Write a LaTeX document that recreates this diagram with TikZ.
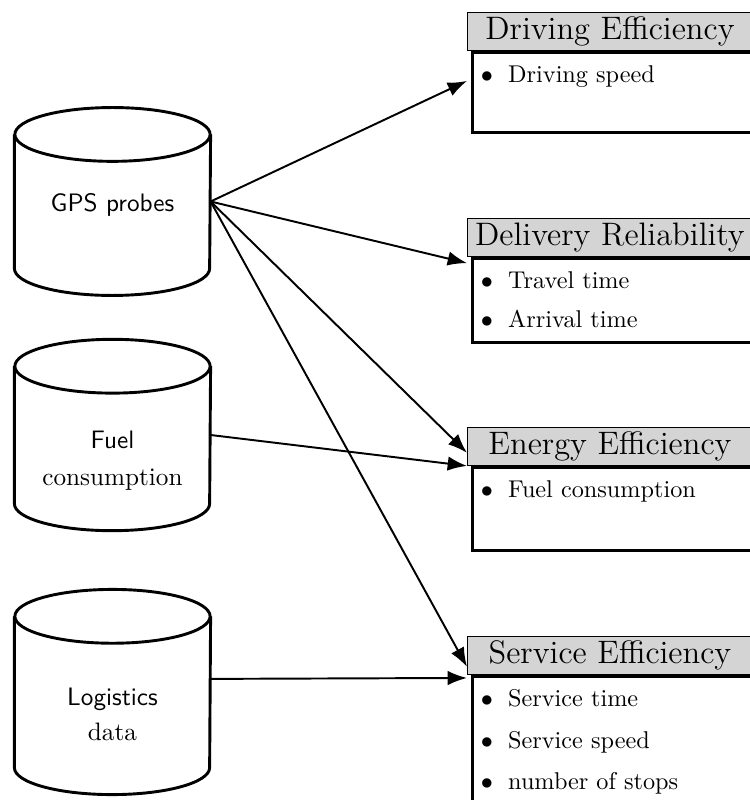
\documentclass[tikz,border=0pt]{standalone}
\usepackage{tikz}
\usepackage{xcolor}
\usetikzlibrary{arrows.meta}

\definecolor{headgray}{gray}{0.83}

\tikzset{
    db/.style={minimum width=2.83cm, inner sep=0pt},
    dbline/.style={line width=1.2pt},
    dbtext/.style={align=center, font=\fontsize{10.4}{12.5}\selectfont},
    headbox/.style={draw, fill=headgray, line width=0.4pt, anchor=north west,
        minimum width=4.13cm, minimum height=0.55cm, inner sep=0pt,
        font=\fontsize{13.4}{16}\selectfont},
    bodybox/.style={draw, line width=1.2pt, anchor=north west, inner sep=0pt},
    conn/.style={-{Latex[length=2.8mm,width=2.1mm]}, line width=0.8pt},
}

% cylinder outline round a named node
\newcommand{\drawdb}[1]{%
    \draw[dbline] ([yshift=-0.39cm]#1.north west) -- ([yshift=0.39cm]#1.south west)
        arc[start angle=180, end angle=360, x radius=1.415cm, y radius=0.39cm]
        -- ([yshift=-0.39cm]#1.north east);
    \draw[dbline] ([yshift=-0.39cm]#1.north) ellipse[x radius=1.415cm, y radius=0.39cm];
}

\newcommand{\itembox}[2]{%
    \begin{minipage}[t][#1][t]{4.1cm}
        \vspace*{5.5pt}#2
    \end{minipage}}
\newcommand{\bul}{\hspace*{0.12cm}$\bullet$\hspace{0.22cm}}

\begin{document}
\begin{tikzpicture}[x=0.0145cm, y=-0.0145cm]
    \useasboundingbox (0,0) rectangle (749,800);

    % sources
    \node[db, minimum height=2.71cm, label={[dbtext, yshift=-0.045cm]center:{\sffamily GPS probes}}] (gps) at (112.5,201.5) {};
    \node[db, minimum height=2.76cm, label={[dbtext, yshift=-0.375cm]center:{\sffamily Fuel}\\[3pt]consumption}] (fuel) at (112.5,435) {};
    \node[db, minimum height=2.96cm, label={[dbtext, yshift=-0.32cm]center:{\sffamily Logistics}\\[2pt]data}] (logi) at (112.5,692) {};
    \foreach \db in {gps,fuel,logi} {\drawdb{\db}}

    % indicators
    \foreach \name/\title/\top/\bodyh/\items in {
        drv/Driving Efficiency/12/1.16cm/{\bul Driving speed},
        dlv/Delivery Reliability/218/1.22cm/{\bul Travel time\\[4pt]\bul Arrival time},
        eng/Energy Efficiency/427/1.2cm/{\bul Fuel consumption},
        svc/Service Efficiency/636/1.9cm/{\bul Service time\\[5pt]\bul Service speed\\[5pt]\bul number of stops}} {
        \node[headbox] (h\name) at (467,\top) {\title};
        \node[bodybox] (b\name) at ([xshift=0.06cm]h\name.south west) {\itembox{\bodyh}{\items}};
    }

    \draw[conn] (gps.east) -- ([yshift=-0.435cm]hdrv.south west);
    \draw[conn] (gps.east) -- ([yshift=-0.09cm]hdlv.south west);
    \draw[conn] (gps.east) -- ([yshift=0.19cm]heng.south west);
    \draw[conn] (gps.east) -- ([yshift=0.116cm]hsvc.south west);
    \draw[conn] (fuel.east) -- (heng.south west);
    \draw[conn] ([yshift=0.19cm]logi.east) -- ([yshift=-0.044cm]hsvc.south west);
\end{tikzpicture}
\end{document}
